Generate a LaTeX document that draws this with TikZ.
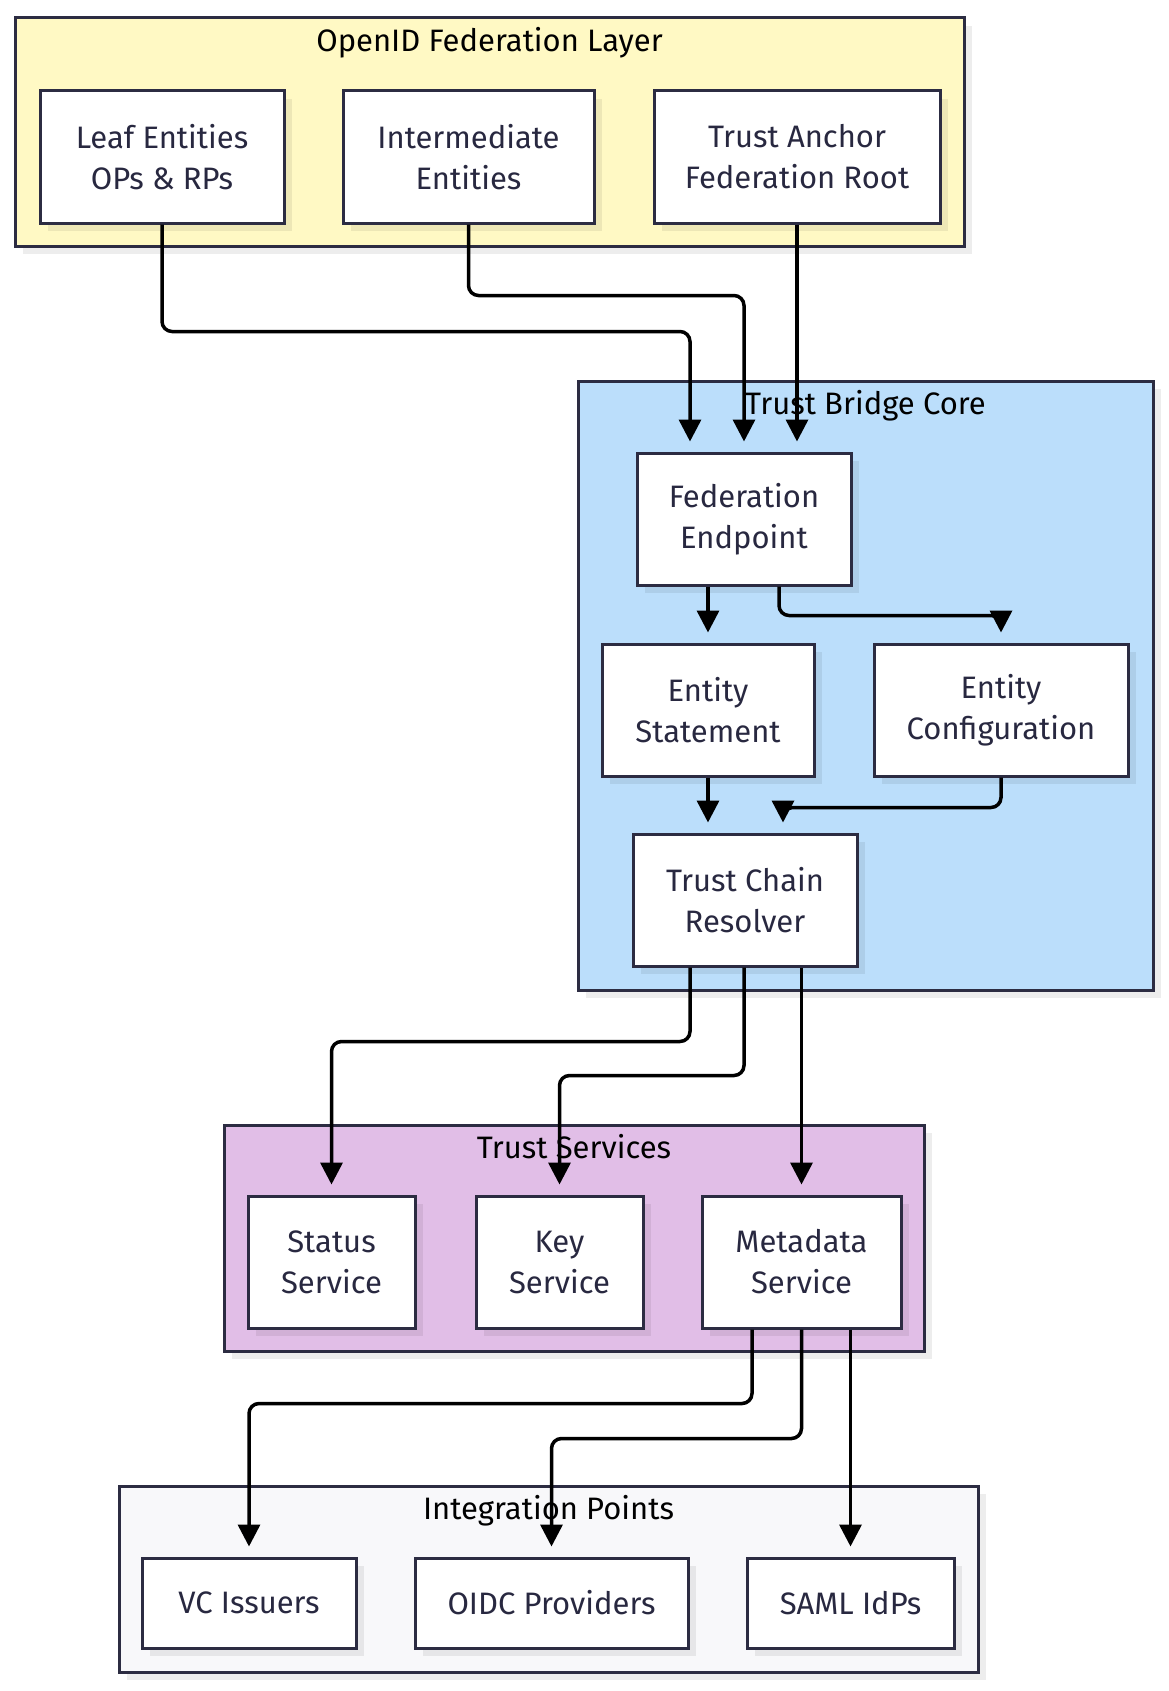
\documentclass[tikz,border=0pt]{standalone}
\usepackage{fontspec}
\setmainfont{Fira Sans}
\usepackage{tikz}
\usetikzlibrary{arrows.meta,positioning,shadows}
\definecolor{edgenavy}{RGB}{44,44,66}
\definecolor{textnavy}{RGB}{40,40,64}
\definecolor{fedyellow}{RGB}{255,249,196}
\definecolor{coreblue}{RGB}{187,222,251}
\definecolor{svcpurple}{RGB}{225,190,231}
\definecolor{intgrey}{RGB}{248,248,250}
\tikzset{
  layer/.style={draw=edgenavy, line width=1.5pt, inner sep=0pt,
    drop shadow={shadow xshift=4pt, shadow yshift=-4pt, fill=black, opacity=.07}},
  layertitle/.style={inner sep=0pt, text=black},
  entity/.style={draw=edgenavy, line width=1.5pt, fill=white, text=textnavy,
    align=center, minimum height=66pt, inner sep=3pt,
    drop shadow={shadow xshift=4pt, shadow yshift=-4pt, fill=black, opacity=.07}},
  flow/.style={-{Triangle[length=11pt,width=11pt]}, line width=1.75pt, draw=black,
    rounded corners=5pt, shorten >=5pt}
}

\begin{document}
\begin{tikzpicture}[x=0.5pt, y=-0.5pt, font=\fontsize{15.5}{20.5}\selectfont]
        \useasboundingbox (0,0) rectangle (1168,1691);
        \node[layer, fill=fedyellow, minimum width=474.5pt, minimum height=114pt] (fedlayer) at (489.5,132) {};
        \node[layertitle, below=5pt of fedlayer.north] (fedtitle) {OpenID Federation Layer};
        \node[layer, fill=coreblue, minimum width=287.5pt, minimum height=304.5pt] (corelayer) at (865.5,685.5) {};
        \node[layertitle, below=5pt of corelayer.north] (coretitle) {Trust Bridge Core};
        \node[layer, fill=svcpurple, minimum width=350pt, minimum height=113pt] (svclayer) at (574,1238) {};
        \node[layertitle, below=5pt of svclayer.north] (svctitle) {Trust Services};
        \node[layer, fill=intgrey, minimum width=429.5pt, minimum height=93pt] (intlayer) at (548.5,1579) {};
        \node[layertitle, below=5pt of intlayer.north] (inttitle) {Integration Points};

        \node[entity, minimum width=122pt] (leaf) at (162,157) {Leaf Entities\\OPs \& RPs};
        \node[entity, minimum width=125.5pt, right=28pt of leaf] (inter) {Intermediate\\Entities};
        \node[entity, minimum width=143pt, right=28.5pt of inter] (anchor) {Trust Anchor\\Federation Root};

        \node[entity, minimum width=107pt] (fedep) at (744,519) {Federation\\Endpoint};
        \node[entity, minimum width=106pt] (estmt) at (708,710) {Entity\\Statement};
        \node[entity, minimum width=127pt, right=28.5pt of estmt] (econf) {Entity\\Configuration};
        \node[entity, minimum width=112pt] (resolver) at (745,900) {Trust Chain\\Resolver};

        \node[entity, minimum width=83.5pt] (status) at (331.5,1262) {Status\\Service};
        \node[entity, minimum width=83.5pt, right=29pt of status] (keysvc) {Key\\Service};
        \node[entity, minimum width=99.5pt, right=28pt of keysvc] (meta) {Metadata\\Service};

        \node[entity, minimum width=107pt, minimum height=45pt] (vc) at (249,1603) {VC Issuers};
        \node[entity, minimum width=136.5pt, minimum height=45pt, right=28pt of vc] (oidc) {OIDC Providers};
        \node[entity, minimum width=103.5pt, minimum height=45pt, right=28pt of oidc] (saml) {SAML IdPs};

        \draw[flow] (leaf.south) -- ++(0,107) -| ([xshift=-27pt]fedep.north);
        \draw[flow] (inter.south) -- ++(0,71) -| (fedep.north);
        \draw[flow] (anchor.south) -- (anchor.south |- fedep.north);
        \draw[flow] (estmt.north |- fedep.south) -- (estmt.north);
        \draw[flow] ([xshift=17.5pt]fedep.south) -- ++(0,29) -| (econf.north);
        \draw[flow] (estmt.south) -- (estmt.south |- resolver.north);
        \draw[flow] (econf.south) -- ++(0,30) -| ([xshift=19pt]resolver.north);
        \draw[flow] ([xshift=-27.5pt]resolver.south) -- ++(0,74) -| (status.north);
        \draw[flow] ([xshift=-0.5pt]resolver.south) -- ++(0,108) -| (keysvc.north);
        \draw[flow] (meta.north |- resolver.south) -- (meta.north);
        \draw[flow] ([xshift=-24.75pt]meta.south) -- ++(0,74) -| (vc.north);
        \draw[flow] (meta.south) -- ++(0,109) -| (oidc.north);
        \draw[flow] (saml.north |- meta.south) -- (saml.north);
    \end{tikzpicture}
\end{document}
